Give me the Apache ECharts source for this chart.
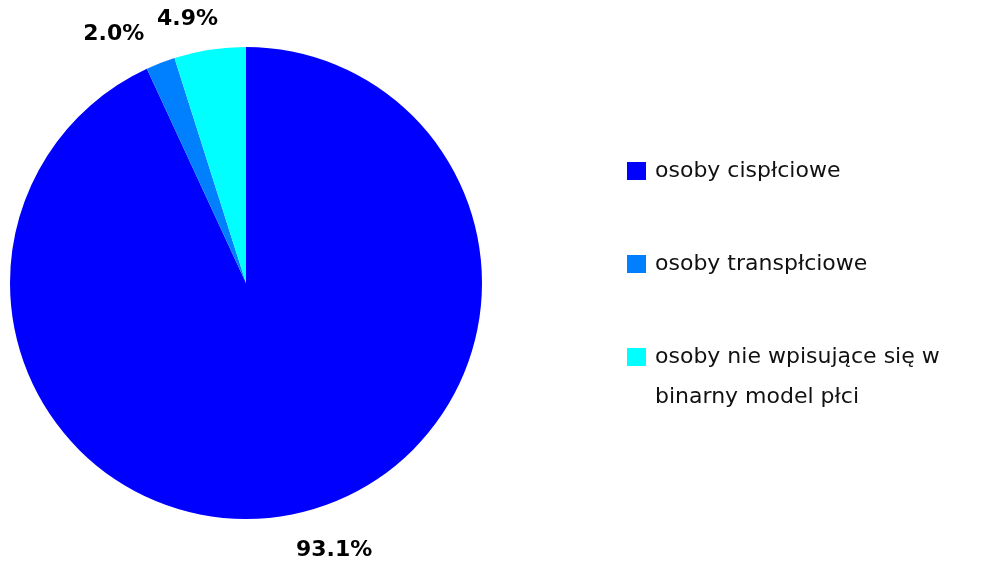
<!DOCTYPE html>
<html>
<head>
<meta charset="utf-8">
<script src="https://cdn.jsdelivr.net/npm/echarts@6/dist/echarts.min.js"></script>
<style>html,body{margin:0;padding:0;background:#fff}#c{width:992px;height:565px}</style>
</head>
<body>
<div id="c"></div>
<script>
const categories = ["osoby cispłciowe", "osoby transpłciowe", "osoby nie wpisujące się w binarny model płci"];
const values = [93.1, 2.0, 4.9];
const colors = ["#0000FF", "#007FFF", "#00FFFF"];

const chart = echarts.init(document.getElementById('c'), null, {renderer: 'canvas'});
const legendText = {fontFamily: 'DejaVu Sans', fontSize: 22, color: '#111', lineHeight: 26, padding: [0, 0, 0, 4]};
const legendBase = {orient: 'vertical', left: 627, padding: 0, itemWidth: 19, itemHeight: 18, itemGap: 0, icon: 'rect', selectedMode: false, textStyle: legendText};
chart.setOption({
  animation: false,
  color: colors,
  legend: [
    Object.assign({}, legendBase, {top: 158, data: [categories[0]]}),
    Object.assign({}, legendBase, {top: 251, data: [categories[1]]}),
    Object.assign({}, legendBase, {top: 297, data: [categories[2]],
      textStyle: Object.assign({}, legendText, {lineHeight: 40}),
      formatter: function () { return ' \nosoby nie wpisujące się w\nbinarny model płci'; }})
  ],
  series: [{
    type: 'pie',
    center: [246, 283],
    radius: [0, 236],
    startAngle: 90,
    clockwise: true,
    avoidLabelOverlap: false,
    labelLayout: {hideOverlap: false, moveOverlap: null},
    data: categories.map((c, i) => ({name: c, value: values[i]})).map((d, i) => {
      if (i === 0) { d.labelLine = {length: 38}; d.label = {distanceToLabelLine: -9}; }
      if (i === 1) { d.labelLine = {length: 31}; }
      if (i === 2) { d.labelLine = {length: 31}; d.label = {distanceToLabelLine: -13}; }
      return d;
    }),
    label: {
      show: true,
      position: 'outside',
      formatter: p => p.value.toFixed(1) + '%',
      fontFamily: 'DejaVu Sans',
      fontWeight: 'bold',
      fontSize: 22,
      color: '#000'
    },
    labelLine: {show: false, length: 26, length2: 0},
    itemStyle: {borderWidth: 0},
    emphasis: {disabled: true}
  }]
});
</script>
</body>
</html>
